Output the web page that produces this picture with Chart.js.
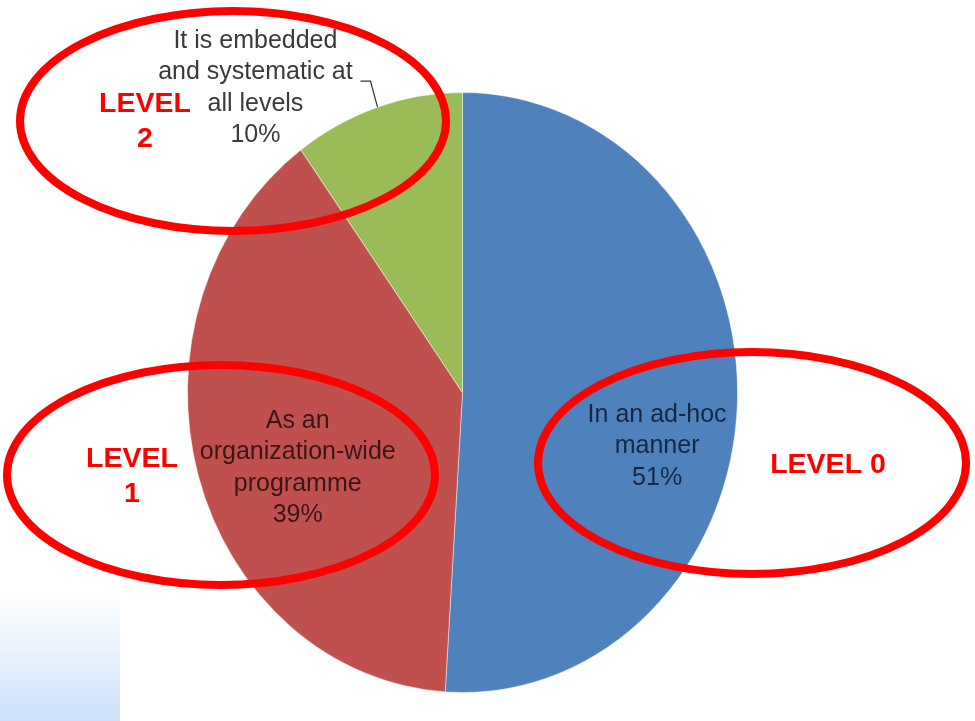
<!DOCTYPE html>
<html lang="en">
<head>
<meta charset="utf-8">
<title>How evaluation is carried out</title>
<style>
  html, body { margin: 0; padding: 0; background: #fff; }
  #chart { display: block; }
</style>
</head>
<body>
<canvas id="chart" width="975" height="721"></canvas>

<script src="https://cdn.jsdelivr.net/npm/chart.js@4.4.0/dist/chart.umd.min.js"></script>
<script>
  // slices, clockwise from 12 o'clock
  const categories = ['In an ad-hoc manner', 'As an organization-wide programme', 'It is embedded and systematic at all levels'];
  const labelLines = [['In an ad-hoc', 'manner'], ['As an', 'organization-wide', 'programme'], ['It is embedded', 'and systematic at', 'all levels']];
  const shares = [51, 39, 10];
  const sliceColors = ['#4f81bd', '#c0504d', '#9bbb59'];
  const levelNames = [['LEVEL 0'], ['LEVEL', '1'], ['LEVEL', '2']];

  // the pie is drawn a bit taller than wide
  const STRETCH = 300 / 275;

  // where each slice's text sits: shift from mid angle (deg) and fraction of radius
  const labelPlace = [
    { dAngle: 12.4, frac: 0.73, color: 'rgba(10,20,40,0.82)' },
    { dAngle: -6.6, frac: 0.65, color: 'rgba(30,10,10,0.82)' },
    { dAngle: -18.6, frac: 1.263, color: '#3a3a3a', leader: true }
  ];

  // red rings drawn round each group, with their level names
  const rings = [
    { cx: 752, cy: 463, rx: 214, ry: 111, tx: 828, ty: 465 },
    { cx: 221, cy: 475, rx: 214, ry: 110, tx: 132, ty: 477 },
    { cx: 233, cy: 121, rx: 213, ry: 110, tx: 145, ty: 122 }
  ];

  function polar(arc, angle, r) {
    return { x: arc.x + Math.cos(angle) * r, y: arc.y + Math.sin(angle) * r * STRETCH };
  }

  const backdrop = {
    id: 'backdrop',
    beforeDraw(chart) {
      const ctx = chart.ctx;
      const g = ctx.createLinearGradient(0, 592, 0, 721);
      g.addColorStop(0, 'rgba(255,255,255,1)');
      g.addColorStop(1, '#cde1fb');
      ctx.save();
      ctx.fillStyle = g;
      ctx.fillRect(0, 592, 120, 129);
      ctx.restore();
    },
    beforeDatasetsDraw(chart) {
      const arc = chart.getDatasetMeta(0).data[0];
      const ctx = chart.ctx;
      ctx.save();
      ctx.translate(arc.x, arc.y);
      ctx.scale(1, STRETCH);
      ctx.translate(-arc.x, -arc.y);
    },
    afterDatasetsDraw(chart) {
      chart.ctx.restore();
    }
  };

  const annotations = {
    id: 'annotations',
    afterDraw(chart) {
      const ctx = chart.ctx;
      const arcs = chart.getDatasetMeta(0).data;
      ctx.save();
      ctx.textAlign = 'center';
      ctx.textBaseline = 'middle';
      ctx.font = '25px "Liberation Sans", Arial, sans-serif';

      arcs.forEach((arc, i) => {
        const place = labelPlace[i];
        const mid = (arc.startAngle + arc.endAngle) / 2;
        const p = polar(arc, mid + place.dAngle * Math.PI / 180, arc.outerRadius * place.frac);
        const lines = labelLines[i].concat([shares[i] + '%']);
        const lh = 31.5;
        ctx.fillStyle = place.color;
        lines.forEach((t, k) => {
          ctx.fillText(t, p.x, p.y + (k - (lines.length - 1) / 2) * lh);
        });
        if (place.leader) {
          const e = polar(arc, mid, arc.outerRadius);
          ctx.strokeStyle = '#333';
          ctx.lineWidth = 1.2;
          ctx.beginPath();
          ctx.moveTo(e.x, e.y);
          ctx.lineTo(e.x - 7, e.y - 26);
          ctx.lineTo(e.x - 17, e.y - 26);
          ctx.stroke();
        }
      });

      ctx.strokeStyle = '#ff0000';
      ctx.fillStyle = '#ff0000';
      ctx.lineWidth = 8;
      ctx.font = 'bold 28.5px "Liberation Sans", Arial, sans-serif';
      rings.forEach((r, i) => {
        ctx.beginPath();
        ctx.ellipse(r.cx, r.cy, r.rx, r.ry, 0, 0, Math.PI * 2);
        ctx.stroke();
        const lines = levelNames[i];
        lines.forEach((t, k) => {
          ctx.fillText(t, r.tx, r.ty + (k - (lines.length - 1) / 2) * 35);
        });
      });
      ctx.restore();
    }
  };

  new Chart(document.getElementById('chart'), {
    type: 'pie',
    data: {
      labels: categories,
      datasets: [{
        data: shares,
        backgroundColor: sliceColors,
        borderColor: 'rgba(255,255,255,0.45)',
        borderWidth: 1
      }]
    },
    options: {
      responsive: false,
      animation: false,
      devicePixelRatio: 1,
      layout: { padding: { left: 187, right: 237, top: 117, bottom: 53 } },
      plugins: {
        legend: { display: false },
        tooltip: { enabled: false }
      }
    },
    plugins: [backdrop, annotations]
  });
</script>
</body>
</html>
